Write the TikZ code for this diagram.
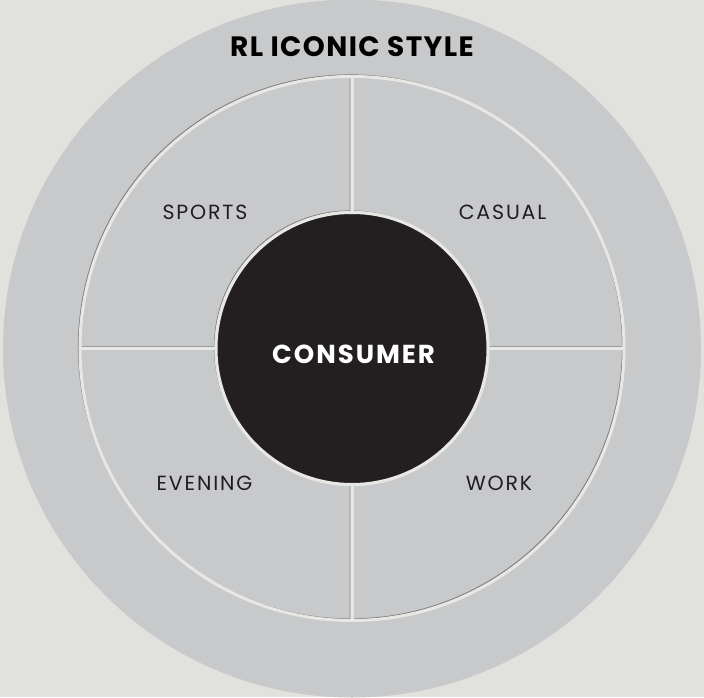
\documentclass[tikz,border=0pt]{standalone}
\usepackage{fontspec}
\setmainfont{Poppins}
\newfontfamily\segfont[LetterSpace=9]{Poppins}
\newfontfamily\headfont[LetterSpace=5]{Poppins}
\newfontfamily\corefont[LetterSpace=7.5]{Poppins}
\usetikzlibrary{positioning}
\definecolor{paper}{RGB}{225,226,222}
\definecolor{ring}{RGB}{200,201,203}
\definecolor{rim}{RGB}{231,231,227}
\definecolor{shade}{RGB}{128,128,128}
\definecolor{core}{RGB}{35,31,32}
\definecolor{ink}{RGB}{30,30,32}

\begin{document}
\begin{tikzpicture}[x=1pt,y=1pt,
  quadfill/.style={fill=ring},
  quadshade/.style={draw=shade,line width=1pt},
  quadrim/.style={draw=rim,line width=3pt,line join=round},
  segment/.style={text=ink,font=\segfont\fontsize{20.5}{21}\selectfont},
  title/.style={text=black,font=\headfont\bfseries\fontsize{28}{30}\selectfont}
]
\fill[paper] (0,0) rectangle (704,697);
\useasboundingbox (0,0) rectangle (704,697);

% outer ring
\node[circle,fill=ring,minimum size=698pt,inner sep=0pt] (outer) at (352,348.5) {};
\node[title] (style) at (352,650.5) {RL ICONIC STYLE};

% four segments between the core and the ring
\begin{scope}[shift={(352,348.5)}]
  \foreach \a in {0,90,180,270}
    \fill[quadfill] (\a:136) -- (\a:272) arc[start angle=\a,end angle=\a+90,radius=272]
      -- ({\a+90}:136) arc[start angle=\a+90,end angle=\a,radius=136] -- cycle;
  \foreach \a in {0,90,180,270}
    \draw[quadshade,shift={(-1.6,1.6)}] (\a:136) -- (\a:272) arc[start angle=\a,end angle=\a+90,radius=272]
      -- ({\a+90}:136) arc[start angle=\a+90,end angle=\a,radius=136] -- cycle;
  \foreach \a in {0,90,180,270}
    \draw[quadrim] (\a:136) -- (\a:272) arc[start angle=\a,end angle=\a+90,radius=272]
      -- ({\a+90}:136) arc[start angle=\a+90,end angle=\a,radius=136] -- cycle;
\end{scope}

\node[segment] (sports) at (205,485) {SPORTS};
\node[segment] (casual) at (502.5,485) {CASUAL};
\node[segment] (evening) at (204.5,214) {EVENING};
\node[segment] (work) at (499,214) {WORK};

% core
\node[circle,fill=core,draw=rim,line width=3pt,minimum size=272pt,inner sep=0pt] (core) at (352,348.5) {};
\node[text=white,font=\corefont\bfseries\fontsize{26}{27}\selectfont] (consumer) at (353.5,343) {CONSUMER};
\end{tikzpicture}
\end{document}
